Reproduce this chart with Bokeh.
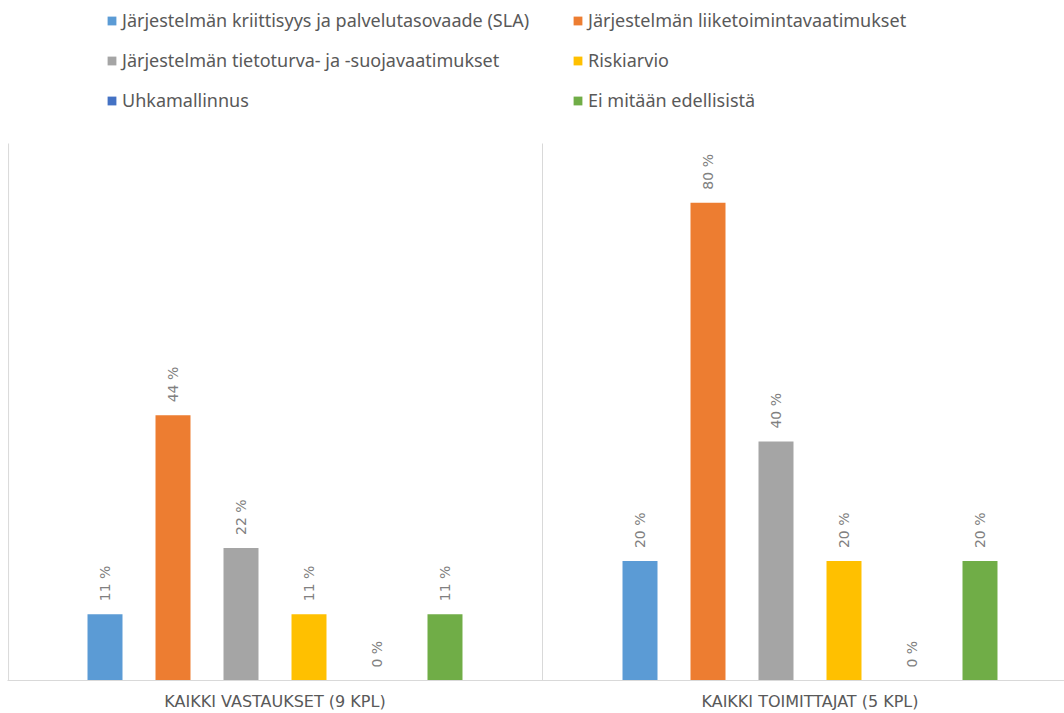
from bokeh.plotting import figure
from bokeh.models import Range1d, FixedTicker, Legend, LegendItem, ColumnDataSource
from bokeh.core.properties import value
from bokeh.embed import file_html
from bokeh.resources import INLINE
import math

groups = ["KAIKKI VASTAUKSET (9 KPL)", "KAIKKI TOIMITTAJAT (5 KPL)"]
series_names = [
    "Järjestelmän kriittisyys ja palvelutasovaade (SLA)",
    "Järjestelmän liiketoimintavaatimukset",
    "Järjestelmän tietoturva- ja -suojavaatimukset",
    "Riskiarvio",
    "Uhkamallinnus",
    "Ei mitään edellisistä",
]
sla = [11.1, 20.0]
liike = [44.4, 80.0]
tieto = [22.2, 40.0]
riski = [11.1, 20.0]
uhka = [0.0, 0.0]
ei = [11.1, 20.0]
series_values = [sla, liike, tieto, riski, uhka, ei]
colors = ["#5B9BD5", "#ED7D31", "#A5A5A5", "#FFC000", "#4472C4", "#70AD47"]

Y_PLOT_TOP = 89.9   # top of the plot area (value axis maximum)

W, H = 1064, 713
px_per_unit = 537 / Y_PLOT_TOP
p = figure(width=W, height=H, output_backend="svg", toolbar_location=None,
           x_range=Range1d(0, 1057 / 535), y_range=Range1d(0, 680 / px_per_unit),
           y_axis_location=None, min_border_left=7, min_border_right=0,
           min_border_top=0, min_border_bottom=33)
p.outline_line_color = None
p.grid.visible = False

# category separators (vertical lines bounding each category)
p.segment(x0=[0.002, 1], y0=[0, 0], x1=[0.002, 1], y1=[Y_PLOT_TOP, Y_PLOT_TOP],
          line_color="#d9d9d9", line_width=1)

p.xaxis.ticker = FixedTicker(ticks=[0.5, 1.5])
p.xaxis.major_label_overrides = {0.5: groups[0], 1.5: groups[1]}
p.xaxis.axis_line_color = "#d9d9d9"
p.xaxis.major_tick_line_color = None
p.xaxis.minor_tick_line_color = None
p.xaxis.major_tick_in = 0
p.xaxis.major_tick_out = 0
p.xaxis.major_label_standoff = 11
p.xaxis.major_label_text_font = "DejaVu Sans"
p.xaxis.major_label_text_font_size = "16px"
p.xaxis.major_label_text_color = "#595959"

step = 0.1271
bw = 0.0654
items = []
for i, (name, vals, col) in enumerate(zip(series_names, series_values, colors)):
    xs = [g + 0.5 + (i - 2.5) * step for g in range(len(groups))]
    src = ColumnDataSource(dict(x=xs, top=vals, lab=[f"{round(v)} %" for v in vals]))
    r = p.vbar(x="x", top="top", width=bw, source=src, fill_color=col, line_color=None)
    p.text(x="x", y="top", text="lab", source=src, angle=math.pi / 2,
           text_align="left", text_baseline="middle", x_offset=0, y_offset=-13,
           text_font=value("DejaVu Sans"), text_font_size="14px", text_color="#808080")
    items.append(LegendItem(label=name, renderers=[r]))

def make_legend(its, x, y):
    lg = Legend(items=its, location=(x, y), orientation="vertical",
                padding=0, margin=0, spacing=16, border_line_color=None,
                background_fill_alpha=0, glyph_width=11, glyph_height=11,
                label_height=20, label_standoff=5,
                label_text_font="Noto Sans", label_text_font_size="18px",
                label_text_color="#595959")
    p.add_layout(lg, "center")

make_legend([items[0], items[2], items[4]], 99, 568)
make_legend([items[1], items[3], items[5]], 565, 568)

open("out.html", "w").write(file_html(p, INLINE))
